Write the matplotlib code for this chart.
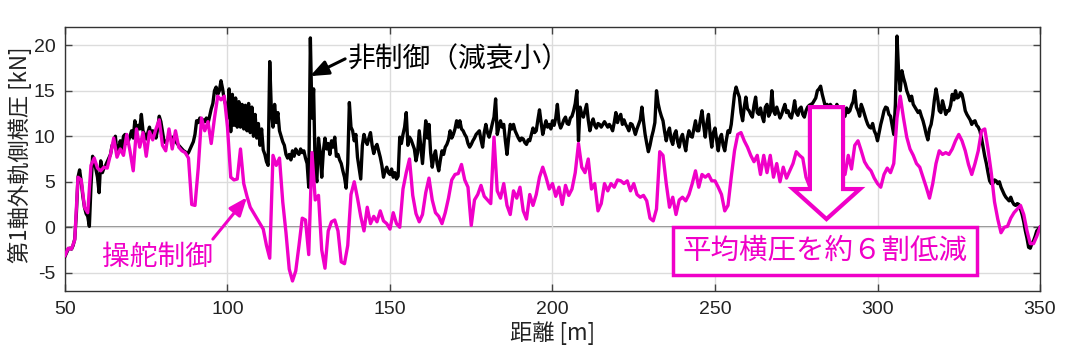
import matplotlib
matplotlib.use('Agg')
import matplotlib.pyplot as plt
from matplotlib.patches import FancyArrow
import numpy as np

# ---------------------------------------------------------------------------- #
# DATA

# non-controlled (low damping), sampled every 0.5 m from 50 m to 350 m
black_force = [
    -3.2, -2.8, -2.4, -2.3, -2.4, -2.0, -1.3, 1.5, 5.5, 6.3, 5.0, 3.4, 2.2, 1.5, 1.2, 0.1, 4.5, 7.8, 7.2, 6.4,
    5.5, 3.8, 7.3, 6.0, 6.5, 6.8, 7.2, 7.6, 8.0, 9.0, 9.3, 10.0, 8.2, 8.5, 9.5, 8.6, 10.0, 10.2, 9.2, 9.5,
    10.0, 10.6, 9.8, 11.7, 10.5, 11.2, 10.8, 12.4, 10.6, 10.2, 9.7, 10.4, 11.0, 10.0, 10.6, 10.4, 9.8, 10.8, 12.2, 11.6,
    10.5, 9.4, 9.3, 9.6, 10.0, 9.8, 9.9, 9.4, 9.5, 9.2, 9.0, 8.8, 8.6, 8.4, 8.3, 8.0, 8.2, 8.6, 9.0, 9.4,
    10.2, 11.7, 11.5, 12.0, 11.4, 11.8, 11.6, 12.0, 11.4, 12.2, 13.0, 13.6, 15.0, 15.4, 14.6, 15.0, 16.1, 15.2, 14.0, 13.4,
    12.0, 15.2, 10.5, 14.6, 11.2, 14.2, 11.0, 13.8, 11.0, 13.5, 10.8, 13.4, 10.6, 13.6, 10.4, 13.2, 10.0, 12.4, 9.8, 11.4,
    9.0, 10.8, 8.5, 8.0, 7.2, 6.8, 18.2, 12.8, 11.0, 13.5, 11.5, 12.6, 10.6, 10.0, 9.4, 9.0, 8.0, 7.6, 8.0, 7.4,
    8.4, 7.8, 8.6, 8.2, 8.0, 8.6, 8.2, 8.4, 7.6, 7.0, 4.4, 20.8, 12.0, 15.2, 6.0, 5.0, 9.8, 8.2, 5.5, 8.4,
    9.8, 8.6, 9.2, 8.0, 9.5, 8.8, 9.9, 7.8, 8.0, 7.4, 7.0, 6.2, 5.5, 4.3, 7.0, 13.7, 11.0, 10.6, 9.5, 10.2,
    7.7, 6.5, 5.3, 9.0, 10.2, 9.5, 9.1, 9.8, 10.4, 9.0, 8.1, 8.8, 9.1, 8.4, 7.7, 6.8, 5.5, 6.2, 6.6, 6.0,
    5.8, 6.4, 5.5, 6.0, 5.3, 5.6, 9.9, 9.2, 10.2, 11.0, 12.6, 9.0, 9.9, 9.6, 9.1, 8.6, 7.3, 8.2, 10.6, 8.8,
    7.0, 9.4, 11.7, 9.8, 11.3, 8.2, 6.6, 7.8, 8.4, 7.0, 6.2, 7.4, 8.4, 8.0, 8.8, 9.1, 9.6, 10.6, 9.8, 10.2,
    10.8, 11.7, 11.0, 11.7, 10.8, 10.6, 10.2, 9.9, 9.2, 8.8, 9.1, 9.5, 9.8, 10.2, 10.4, 10.6, 9.6, 8.8, 10.4, 11.3,
    10.4, 9.9, 10.6, 11.4, 12.1, 14.1, 10.2, 11.0, 11.7, 11.0, 11.3, 9.5, 8.0, 9.8, 11.3, 10.8, 11.3, 10.6, 10.2, 9.8,
    9.5, 9.8, 9.7, 9.3, 9.1, 9.6, 9.5, 10.2, 10.9, 10.4, 10.6, 11.8, 12.9, 11.5, 10.2, 11.0, 11.7, 11.0, 11.3, 10.8,
    11.7, 11.2, 12.0, 13.5, 11.5, 10.9, 11.3, 11.8, 12.1, 11.4, 11.3, 12.0, 12.2, 12.8, 13.6, 15.0, 9.5, 13.2, 12.4, 12.1,
    12.8, 13.5, 11.8, 10.6, 11.4, 11.9, 11.2, 10.9, 11.4, 11.3, 11.0, 11.3, 11.6, 11.3, 11.0, 11.3, 11.0, 10.6, 11.5, 12.6,
    11.5, 12.1, 12.4, 11.3, 11.8, 11.3, 11.0, 10.6, 11.4, 11.3, 10.8, 10.2, 10.8, 11.3, 11.8, 13.2, 11.6, 10.2, 9.2, 8.3,
    9.0, 9.9, 10.6, 11.5, 15.0, 13.6, 12.8, 12.2, 11.7, 10.5, 9.5, 10.4, 10.9, 9.6, 9.1, 10.2, 10.6, 9.4, 8.8, 9.8,
    10.2, 9.2, 8.4, 9.8, 10.6, 10.0, 9.9, 10.8, 11.7, 10.6, 10.6, 11.8, 12.8, 11.2, 9.9, 11.4, 12.4, 10.2, 8.8, 10.4,
    10.9, 9.6, 8.4, 9.8, 10.2, 9.0, 8.4, 9.6, 10.6, 10.4, 11.3, 13.0, 14.6, 15.4, 14.8, 14.3, 12.6, 11.7, 13.2, 14.3,
    13.0, 12.8, 12.4, 12.1, 13.4, 14.3, 12.6, 12.4, 13.1, 12.2, 11.6, 13.2, 13.5, 12.2, 12.6, 15.0, 12.8, 12.4, 13.2, 12.6,
    12.0, 12.4, 13.0, 13.5, 12.6, 12.8, 12.2, 12.0, 12.8, 13.9, 12.6, 12.3, 13.0, 13.2, 12.4, 12.1, 12.8, 13.2, 13.4, 13.5,
    13.6, 13.9, 14.2, 15.0, 15.2, 15.5, 14.6, 13.9, 13.2, 13.5, 13.1, 13.5, 13.2, 13.1, 12.8, 13.5, 13.0, 12.4, 12.0, 12.1,
    12.2, 13.1, 12.6, 12.8, 13.4, 13.8, 15.0, 13.2, 12.8, 12.2, 13.5, 13.0, 12.4, 11.8, 11.3, 11.0, 10.9, 11.4, 10.6, 10.2,
    9.5, 10.4, 11.3, 12.0, 12.8, 13.2, 13.1, 12.4, 12.2, 11.2, 10.2, 13.5, 21.0, 17.0, 15.0, 17.2, 16.4, 15.8, 15.0, 14.5,
    13.9, 14.4, 13.5, 13.2, 12.9, 12.6, 12.8, 12.2, 11.7, 11.0, 10.2, 9.6, 10.8, 11.3, 12.4, 14.0, 15.2, 14.2, 12.8, 12.6,
    13.9, 13.2, 12.4, 12.8, 12.8, 13.4, 14.6, 14.0, 15.0, 14.2, 14.3, 14.8, 14.6, 13.8, 12.8, 12.4, 12.1, 11.8, 11.3, 11.6,
    11.7, 11.2, 11.0, 10.6, 9.8, 8.8, 7.8, 7.0, 6.0, 5.1, 4.8, 4.8, 5.2, 5.1, 4.8, 5.0, 4.4, 4.0, 3.6, 3.3,
    3.1, 2.9, 3.3, 2.8, 2.5, 2.4, 2.6, 2.5, 2.0, 1.4, 0.6, -0.4, -1.2, -2.2, -2.3, -1.8, -1.5, -1.0, -0.4, -0.2,
    0.0,
]

# steering control, sampled every 1 m from 50 m to 350 m
magenta_force = [
    -3.1, -2.3, -2.4, -1.4, 5.5, 5.2, 2.2, 1.6, 6.8, 7.6,
    6.5, 6.2, 6.6, 6.5, 8.0, 9.8, 7.7, 8.6, 7.9, 10.2,
    8.4, 6.2, 10.8, 8.8, 10.4, 7.8, 10.5, 9.6, 10.8, 11.8,
    9.0, 8.4, 10.8, 8.6, 10.6, 8.8, 8.4, 8.2, 7.6, 2.5,
    2.4, 6.5, 12.0, 10.6, 11.6, 9.2, 12.0, 14.4, 14.0, 14.4,
    11.0, 5.5, 5.2, 5.3, 8.6, 4.8, 3.4, 2.2, 1.6, 1.0,
    0.4, -0.2, -2.0, -3.4, 7.9, 6.8, 7.6, 2.8, -0.6, -4.6,
    -5.9, -4.8, -2.0, 1.0, 0.8, -3.0, 8.2, 3.0, 3.5, -2.5,
    -4.5, -0.4, 0.6, 0.8, -0.4, -3.8, -4.0, -2.0, 3.6, 5.0,
    3.2, 1.2, -0.4, 2.2, 0.4, 1.2, 0.6, 1.8, 0.7, 0.4,
    -0.2, 1.6, 0.4, 0.0, 4.2, 6.0, 7.5, 3.5, 1.5, 0.6,
    1.4, 3.8, 5.4, 3.0, 1.6, 1.2, 0.4, 1.6, 3.2, 5.2,
    5.8, 5.9, 6.9, 5.2, 4.4, 0.2, 3.0, 3.6, 4.6, 3.4,
    3.0, 2.6, 9.9, 4.0, 3.2, 4.8, 2.4, 1.4, 4.0, 3.2,
    4.4, 1.8, 0.9, 3.6, 2.4, 3.6, 5.5, 6.6, 5.5, 4.2,
    4.8, 3.4, 4.4, 2.5, 4.6, 3.5, 4.2, 6.0, 9.2, 6.6,
    6.0, 7.5, 4.2, 4.8, 1.8, 2.6, 4.8, 4.0, 4.8, 4.4,
    5.2, 5.1, 4.8, 5.1, 4.0, 4.8, 3.6, 3.3, 3.5, 2.9,
    1.0, 0.7, 2.0, 8.3, 7.9, 4.8, 2.2, 3.3, 1.4, 3.0,
    3.3, 2.9, 3.6, 4.8, 6.2, 4.4, 5.8, 5.5, 5.8, 5.1,
    5.1, 4.4, 3.6, 1.8, 2.4, 5.5, 8.4, 10.2, 10.4, 9.5,
    8.8, 7.9, 7.2, 7.9, 5.8, 7.9, 6.0, 7.9, 5.5, 7.0,
    5.0, 6.6, 5.4, 6.2, 7.0, 8.3, 7.9, 7.6, 5.5, 4.6,
    5.5, 6.0, 5.4, 6.2, 5.6, 6.4, 5.8, 6.6, 6.2, 6.9,
    5.8, 7.9, 6.4, 9.0, 9.5, 8.4, 7.2, 6.6, 6.2, 5.4,
    4.8, 4.4, 5.8, 6.5, 6.0, 7.0, 12.0, 14.4, 12.0, 9.9,
    8.6, 7.9, 7.0, 6.6, 5.5, 4.4, 3.2, 4.8, 7.0, 8.4,
    8.0, 8.2, 8.0, 8.6, 9.5, 10.2, 9.5, 8.4, 6.9, 5.8,
    7.0, 8.4, 10.6, 10.8, 8.6, 6.0, 2.8, 0.9, -0.6, 0.0,
    0.1, 1.0, 1.6, 2.0, 2.4, 1.4, -0.4, -1.8, -1.8, -1.0,
    0.0,
]

distance_black = np.linspace(50, 350, len(black_force))
distance_magenta = np.linspace(50, 350, len(magenta_force))

x_ticks = [50, 100, 150, 200, 250, 300, 350]
y_ticks = [-5, 0, 5, 10, 15, 20]

label_black = "非制御（減衰小）"
label_magenta = "操舵制御"
label_box = "平均横圧を約６割低減"

# ---------------------------------------------------------------------------- #
# STYLE

MAGENTA = '#f000c8'
JP = ['Noto Sans CJK JP', 'DejaVu Sans']
plt.rcParams['font.family'] = ['Liberation Sans', 'DejaVu Sans']
plt.rcParams['axes.unicode_minus'] = False

# ---------------------------------------------------------------------------- #
# FIGURE

fig = plt.figure(figsize=(10.67, 3.6), dpi=100)
ax = fig.add_axes([0.0609, 0.1917, 0.9138, 0.7333])

ax.plot(distance_black, black_force, color='black', lw=2.4, zorder=3)
ax.plot(distance_magenta, magenta_force, color=MAGENTA, lw=2.4, zorder=4)

ax.set_xlim(50, 350)
ax.set_ylim(-7, 22)
ax.set_xticks(x_ticks)
ax.set_yticks(y_ticks)
ax.grid(True, color='#dcdcdc', lw=1.0, zorder=0)
ax.axhline(0, color='#808080', lw=1.3, zorder=1)
ax.tick_params(direction='in', top=True, right=True, length=5, width=1,
               color='#444444', labelsize=14, pad=7, labelcolor='#222222')
for s in ax.spines.values():
    s.set_color('#333333')
    s.set_linewidth(1.0)

ax.set_ylabel("第1軸外軌側横圧 [kN]", family=JP, fontsize=16, color='#222222')
ax.yaxis.set_label_coords(-0.034, 0.515)
ax.set_xlabel("距離 [m]", family=JP, fontsize=16, color='#222222')
ax.xaxis.set_label_coords(0.5, -0.115)

# annotations
ax.text(137, 18.5, label_black, family=JP, fontsize=20, ha='left', va='center', zorder=6)
ax.annotate('', xy=(125.4, 16.6), xytext=(136.2, 18.5),
            arrowprops=dict(arrowstyle='-|>,head_length=0.55,head_width=0.22',
                            color='black', lw=2.2, mutation_scale=20,
                            shrinkA=0, shrinkB=0), zorder=6)

ax.text(61.4, -3.3, label_magenta, family=JP, fontsize=20, color=MAGENTA,
        ha='left', va='center', zorder=6)
ax.annotate('', xy=(106, 3.3), xytext=(95.5, -1.3),
            arrowprops=dict(arrowstyle='-|>,head_length=0.55,head_width=0.22',
                            color=MAGENTA, lw=2.2, mutation_scale=20,
                            shrinkA=0, shrinkB=0), zorder=6)

# hollow arrow
big_arrow = FancyArrow(284.3, 13.2, 0, -12.3, width=10.2, head_width=20.6,
                       head_length=3.3, length_includes_head=True,
                       fc='white', ec=MAGENTA, lw=3, zorder=7)
ax.add_patch(big_arrow)

ax.text(283.9, -2.6, label_box, family=JP, fontsize=20.5, color=MAGENTA,
        ha='center', va='center', zorder=8,
        bbox=dict(boxstyle='square,pad=0.33', fc='white', ec=MAGENTA, lw=2.5))

fig.savefig('out.png', dpi=100)
